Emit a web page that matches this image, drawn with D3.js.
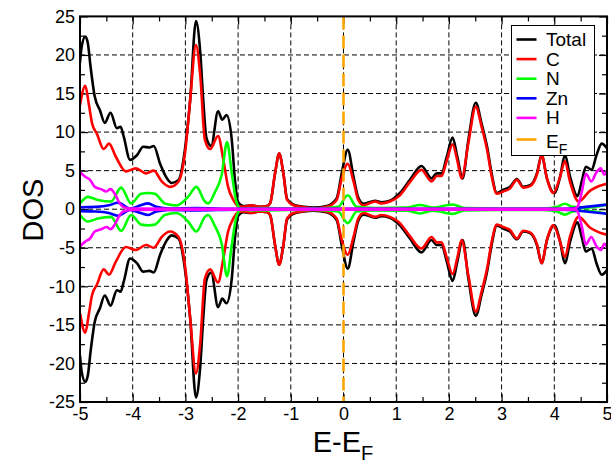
<!DOCTYPE html>
<html>
<head>
<meta charset="UTF-8">
<title>DOS</title>
<script src="https://d3js.org/d3.v7.min.js"></script>
<style>
  body { margin: 0; background: #fff; }
  text { font-family: "Liberation Sans", Arial, Helvetica, sans-serif; fill: #000; }
</style>
</head>
<body>
<svg id="chart" width="611" height="464"></svg>
<script>
// spin-up DOS; spin-down is drawn as the negative mirror
const totalUp = [
  [-5.00, 19.0], [-4.97, 21.0], [-4.90, 22.4], [-4.85, 21.5], [-4.80, 18.5], [-4.72, 14.6],
  [-4.62, 12.8], [-4.53, 11.2], [-4.42, 12.5], [-4.30, 10.5], [-4.23, 10.7], [-4.17, 9.4],
  [-4.05, 6.4], [-3.92, 7.0], [-3.80, 8.1], [-3.68, 8.0], [-3.60, 8.2], [-3.48, 5.9],
  [-3.35, 4.0], [-3.26, 3.4], [-3.13, 3.8], [-3.01, 7.7], [-2.91, 14.1], [-2.80, 24.4],
  [-2.72, 20.5], [-2.66, 14.0], [-2.60, 9.2], [-2.51, 8.2], [-2.38, 12.7], [-2.30, 11.6],
  [-2.22, 12.2], [-2.12, 9.0], [-2.06, 3.8], [-2.00, 0.9], [-1.90, 0.4], [-1.75, 0.5],
  [-1.60, 0.3], [-1.45, 0.4], [-1.39, 0.8], [-1.30, 4.6], [-1.22, 7.2], [-1.14, 4.6],
  [-1.07, 1.3], [-0.95, 0.6], [-0.75, 0.3], [-0.57, 0.2], [-0.32, 0.4], [-0.13, 1.4],
  [-0.03, 4.8], [0.08, 7.7], [0.19, 4.2], [0.28, 1.5], [0.38, 0.7], [0.60, 1.1],
  [0.72, 0.9], [0.88, 1.1], [1.07, 2.1], [1.26, 3.8], [1.48, 5.6], [1.67, 4.0],
  [1.77, 4.65], [1.86, 4.65], [1.96, 6.8], [2.07, 9.3], [2.16, 6.8], [2.26, 4.0],
  [2.37, 9.0], [2.51, 13.8], [2.62, 11.1], [2.73, 7.9], [2.81, 4.65], [2.91, 2.1],
  [3.03, 2.5], [3.16, 2.9], [3.29, 3.9], [3.41, 2.9], [3.54, 3.1], [3.67, 4.65],
  [3.76, 7.0], [3.86, 4.0], [4.00, 2.1], [4.11, 4.2], [4.20, 7.0], [4.30, 4.2],
  [4.44, 1.7], [4.52, 3.6], [4.60, 5.5], [4.71, 5.1], [4.80, 7.0], [4.90, 8.5], [5.00, 7.9]
];

const carbonUp = [
  [-5.00, 13.5], [-4.90, 16.0], [-4.83, 13.5], [-4.77, 11.1], [-4.68, 9.8], [-4.55, 7.8],
  [-4.45, 8.5], [-4.32, 6.8], [-4.13, 4.9], [-3.94, 5.3], [-3.75, 4.65], [-3.60, 5.0],
  [-3.45, 3.6], [-3.29, 2.9], [-3.13, 3.6], [-3.00, 7.7], [-2.91, 14.1], [-2.80, 21.3],
  [-2.72, 17.5], [-2.63, 9.0], [-2.53, 7.8], [-2.38, 9.5], [-2.28, 6.4], [-2.19, 2.9],
  [-2.09, 1.2], [-2.00, 0.4], [-1.90, 0.3], [-1.75, 0.5], [-1.60, 0.3], [-1.45, 0.4],
  [-1.39, 0.8], [-1.30, 4.6], [-1.22, 7.2], [-1.14, 4.6], [-1.07, 1.2], [-0.95, 0.5],
  [-0.75, 0.25], [-0.57, 0.1], [-0.32, 0.3], [-0.13, 1.2], [-0.04, 3.8], [0.08, 5.9],
  [0.19, 3.6], [0.28, 1.2], [0.38, 0.5], [0.60, 1.0], [0.72, 0.75], [0.88, 1.0],
  [1.07, 1.8], [1.26, 3.5], [1.48, 5.1], [1.67, 3.6], [1.77, 4.3], [1.86, 4.3],
  [1.96, 6.3], [2.07, 8.4], [2.16, 6.3], [2.24, 4.0], [2.37, 8.6], [2.51, 13.3],
  [2.62, 10.7], [2.73, 7.5], [2.81, 4.3], [2.91, 2.0], [3.03, 2.3], [3.16, 2.7],
  [3.29, 3.8], [3.41, 2.8], [3.54, 3.0], [3.67, 4.5], [3.76, 7.0], [3.86, 4.0],
  [3.98, 2.1], [4.11, 4.2], [4.20, 6.2], [4.30, 3.5], [4.46, 1.0], [4.68, 2.4],
  [4.85, 3.0], [5.00, 3.3]
];

const nitrogenUp = [
  [-5.00, 0.75], [-4.85, 1.6], [-4.66, 1.2], [-4.41, 1.0], [-4.22, 2.8], [-4.03, 0.75],
  [-3.84, 2.0], [-3.70, 2.1], [-3.58, 2.0], [-3.39, 0.75], [-3.17, 0.5], [-2.95, 1.6],
  [-2.79, 2.9], [-2.63, 1.0], [-2.57, 0.75], [-2.44, 2.2], [-2.31, 4.5], [-2.21, 8.7],
  [-2.12, 4.65], [-2.03, 0.9], [-1.95, 0.1], [-1.50, 0.15], [-1.00, 0.1], [-0.50, 0.1],
  [-0.10, 0.3], [0.08, 1.8], [0.25, 0.3], [0.60, 0.15], [1.20, 0.2], [1.45, 0.55],
  [1.70, 0.2], [2.07, 0.6], [2.30, 0.15], [3.00, 0.1], [3.80, 0.1], [4.05, 0.3],
  [4.20, 0.7], [4.35, 0.3], [4.60, 0.2], [5.00, 0.6]
];

const zincUp = [
  [-5.00, 0.25], [-4.70, 0.3], [-4.45, 0.5], [-4.28, 0.85], [-4.05, 0.1], [-3.85, 0.5],
  [-3.71, 0.75], [-3.55, 0.3], [-3.30, 0.1], [-2.80, 0.15], [-2.00, 0.05], [0.00, 0.05],
  [4.00, 0.05], [4.30, 0.1], [4.60, 0.3], [5.00, 0.6]
];

const hydrogenUp = [
  [-5.00, 4.8], [-4.90, 4.2], [-4.81, 3.8], [-4.72, 2.9], [-4.60, 2.6], [-4.50, 2.3],
  [-4.42, 2.6], [-4.34, 2.0], [-4.25, 0.8], [-4.18, 0.3], [-4.05, 0.1], [-3.00, 0.05],
  [0.00, 0.05], [4.38, 0.05], [4.44, 0.3], [4.52, 2.2], [4.60, 4.6], [4.70, 3.6],
  [4.80, 4.8], [4.88, 5.3], [4.95, 4.5], [5.00, 4.9]
];

const seriesNames = ["Total", "C", "N", "Zn", "H"];
const seriesColors = ["#000000", "#ff0000", "#00ff00", "#0000ff", "#ff00ff"];
const seriesData = [totalUp, carbonUp, nitrogenUp, zincUp, hydrogenUp];

const xTicks = [-5, -4, -3, -2, -1, 0, 1, 2, 3, 4, 5];
const yTicks = [-25, -20, -15, -10, -5, 0, 5, 10, 15, 20, 25];
const fermiLevel = 0;

const svg = d3.select("#chart");
const pLeft = 80, pRight = 607, pTop = 16.4, pBottom = 402;

const x = d3.scaleLinear().domain([-5, 5]).range([pLeft, pRight]);
const y = d3.scaleLinear().domain([-25, 25]).range([pBottom, pTop]);

svg.append("defs").append("clipPath").attr("id", "clip")
  .append("rect").attr("x", pLeft).attr("y", pTop)
  .attr("width", pRight - pLeft).attr("height", pBottom - pTop);

// dashed grid
const grid = svg.append("g").attr("stroke", "#000").attr("stroke-width", 1)
  .attr("stroke-dasharray", "5,3");
grid.selectAll(".gx").data(xTicks.slice(1, -1)).join("line")
  .attr("x1", d => x(d)).attr("x2", d => x(d)).attr("y1", pTop).attr("y2", pBottom);
grid.selectAll(".gy").data(yTicks.slice(1, -1)).join("line")
  .attr("y1", d => y(d)).attr("y2", d => y(d)).attr("x1", pLeft).attr("x2", pRight);

// inward ticks on all four sides
const minorX = d3.range(-4.5, 5, 1);
const minorY = d3.range(-22.5, 25, 5);
const plain = d => String(d);   // hyphen minus like the original, not U+2212
function styleAxis(g) {
  g.select(".domain").remove();
  g.selectAll(".tick line").attr("stroke", "#000").attr("stroke-width", 1.2);
  g.selectAll("text").attr("font-size", 18).attr("fill", "#000")
    .style("font-family", '"Liberation Sans", Arial, sans-serif');
}
svg.append("g").attr("transform", `translate(0,${pBottom})`)
  .call(d3.axisBottom(x).tickValues(xTicks).tickSize(-8).tickPadding(5).tickFormat(plain))
  .call(styleAxis);
svg.append("g").attr("transform", `translate(0,${pBottom})`)
  .call(d3.axisBottom(x).tickValues(minorX).tickSize(-5).tickFormat(""))
  .call(styleAxis);
svg.append("g").attr("transform", `translate(0,${pTop})`)
  .call(d3.axisTop(x).tickValues(xTicks).tickSize(-8).tickFormat(""))
  .call(styleAxis);
svg.append("g").attr("transform", `translate(0,${pTop})`)
  .call(d3.axisTop(x).tickValues(minorX).tickSize(-5).tickFormat(""))
  .call(styleAxis);
svg.append("g").attr("transform", `translate(${pLeft},0)`)
  .call(d3.axisLeft(y).tickValues(yTicks).tickSize(-8).tickPadding(5).tickFormat(plain))
  .call(styleAxis);
svg.append("g").attr("transform", `translate(${pLeft},0)`)
  .call(d3.axisLeft(y).tickValues(minorY).tickSize(-5).tickFormat(""))
  .call(styleAxis);
svg.append("g").attr("transform", `translate(${pRight},0)`)
  .call(d3.axisRight(y).tickValues(yTicks).tickSize(-8).tickFormat(""))
  .call(styleAxis);
svg.append("g").attr("transform", `translate(${pRight},0)`)
  .call(d3.axisRight(y).tickValues(minorY).tickSize(-5).tickFormat(""))
  .call(styleAxis);

// curves
const plot = svg.append("g").attr("clip-path", "url(#clip)");
const lineUp = d3.line().x(d => x(d[0])).y(d => y(d[1])).curve(d3.curveMonotoneX);
const lineDown = d3.line().x(d => x(d[0])).y(d => y(-d[1])).curve(d3.curveMonotoneX);
seriesData.forEach((data, i) => {
  [lineUp, lineDown].forEach(gen => {
    plot.append("path").attr("d", gen(data))
      .attr("fill", "none").attr("stroke", seriesColors[i])
      .attr("stroke-width", 2.6).attr("stroke-linejoin", "round");
  });
});

// Fermi level
plot.append("line")
  .attr("x1", x(fermiLevel)).attr("x2", x(fermiLevel))
  .attr("y1", pTop).attr("y2", pBottom)
  .attr("stroke", "#ffa500").attr("stroke-width", 2.6).attr("stroke-dasharray", "13,6");

// frame
svg.append("rect").attr("x", pLeft).attr("y", pTop)
  .attr("width", pRight - pLeft).attr("height", pBottom - pTop)
  .attr("fill", "none").attr("stroke", "#000").attr("stroke-width", 2);

// axis titles
svg.append("text").attr("transform", "translate(43,210) rotate(-90)")
  .attr("text-anchor", "middle").attr("font-size", 29).text("DOS");
const xt = svg.append("text").attr("x", 343).attr("y", 452)
  .attr("text-anchor", "middle").attr("font-size", 29);
xt.append("tspan").text("E-E");
xt.append("tspan").attr("font-size", 20).attr("dy", 8).text("F");

// legend
const legend = svg.append("g");
legend.append("rect").attr("x", 511.5).attr("y", 25.5).attr("width", 83).attr("height", 130)
  .attr("fill", "#fff").attr("stroke", "#000").attr("stroke-width", 1);
const legendNames = seriesNames.concat(["E"]);
const legendColors = seriesColors.concat(["#ffa500"]);
legendNames.forEach((name, i) => {
  const ly = i < 5 ? 39.5 + i * 19.6 : 139.5;
  legend.append("line").attr("x1", 516.5).attr("x2", 536.5).attr("y1", ly).attr("y2", ly)
    .attr("stroke", legendColors[i]).attr("stroke-width", 2.6);
  const t = legend.append("text").attr("x", 546).attr("y", i < 5 ? ly + 6.5 : ly + 8)
    .attr("font-size", 19).text(name);
  if (i === 5) t.append("tspan").attr("font-size", 14).attr("dy", 6).text("F");
});
</script>
</body>
</html>
